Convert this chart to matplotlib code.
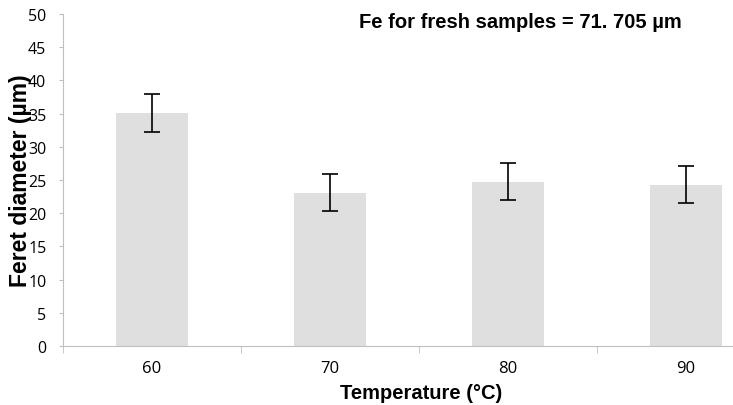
import matplotlib
matplotlib.use('Agg')
import matplotlib.pyplot as plt
import numpy as np

# Data
temperatures = ['60', '70', '80', '90']
feret_mean = [35.1, 23.1, 24.75, 24.3]
feret_err = [2.8, 2.75, 2.75, 2.8]

fig = plt.figure(figsize=(7.33, 4.06), dpi=100)
# axes extend past the right edge, like in the original (cropped) chart
ax = fig.add_axes([63/733, 59/406, 712/733, 332/406])

x = np.arange(len(temperatures))
ax.bar(x, feret_mean, width=0.4, color='#dfdfdf', zorder=2)
ax.errorbar(x, feret_mean, yerr=feret_err, fmt='none', ecolor='black',
            elinewidth=1.2, capsize=6, capthick=1.2, zorder=3)

ax.set_xlim(-0.5, 3.5)
ax.set_ylim(0, 50)
ax.set_yticks(range(0, 51, 5))

# category labels at centers, tick marks at the boundaries
ax.set_xticks(x)
ax.set_xticklabels(temperatures, family='Open Sans', fontsize=12)
ax.tick_params(axis='x', which='major', length=0, pad=10)
ax.set_xticks(np.arange(-0.5, 4.0, 1.0), minor=True)
ax.tick_params(axis='x', which='minor', length=5, color='#bfbfbf')
ax.tick_params(axis='y', length=3, color='#bfbfbf', labelsize=11.5, pad=9)
for lbl in ax.get_yticklabels():
    lbl.set_family('Open Sans')

for side in ['top', 'right']:
    ax.spines[side].set_visible(False)
for side in ['left', 'bottom']:
    ax.spines[side].set_color('#bfbfbf')

ax.set_xlabel('Temperature (°C)', family='Liberation Sans', fontweight='bold',
              fontsize=14.5, va='center')
ax.xaxis.set_label_coords((421-63)/712, -(394-347)/332)
ax.set_ylabel('Feret diameter (µm)', family='Liberation Sans', fontweight='bold',
              fontsize=16.5, va='center')
ax.yaxis.set_label_coords(-(63-21)/712, 0.5)

fig.text(520/733, 1-22/406, 'Fe for fresh samples = 71. 705 µm', family='Liberation Sans',
         fontweight='bold', fontsize=14.5, ha='center', va='center')

fig.savefig('out.png', dpi=100)
